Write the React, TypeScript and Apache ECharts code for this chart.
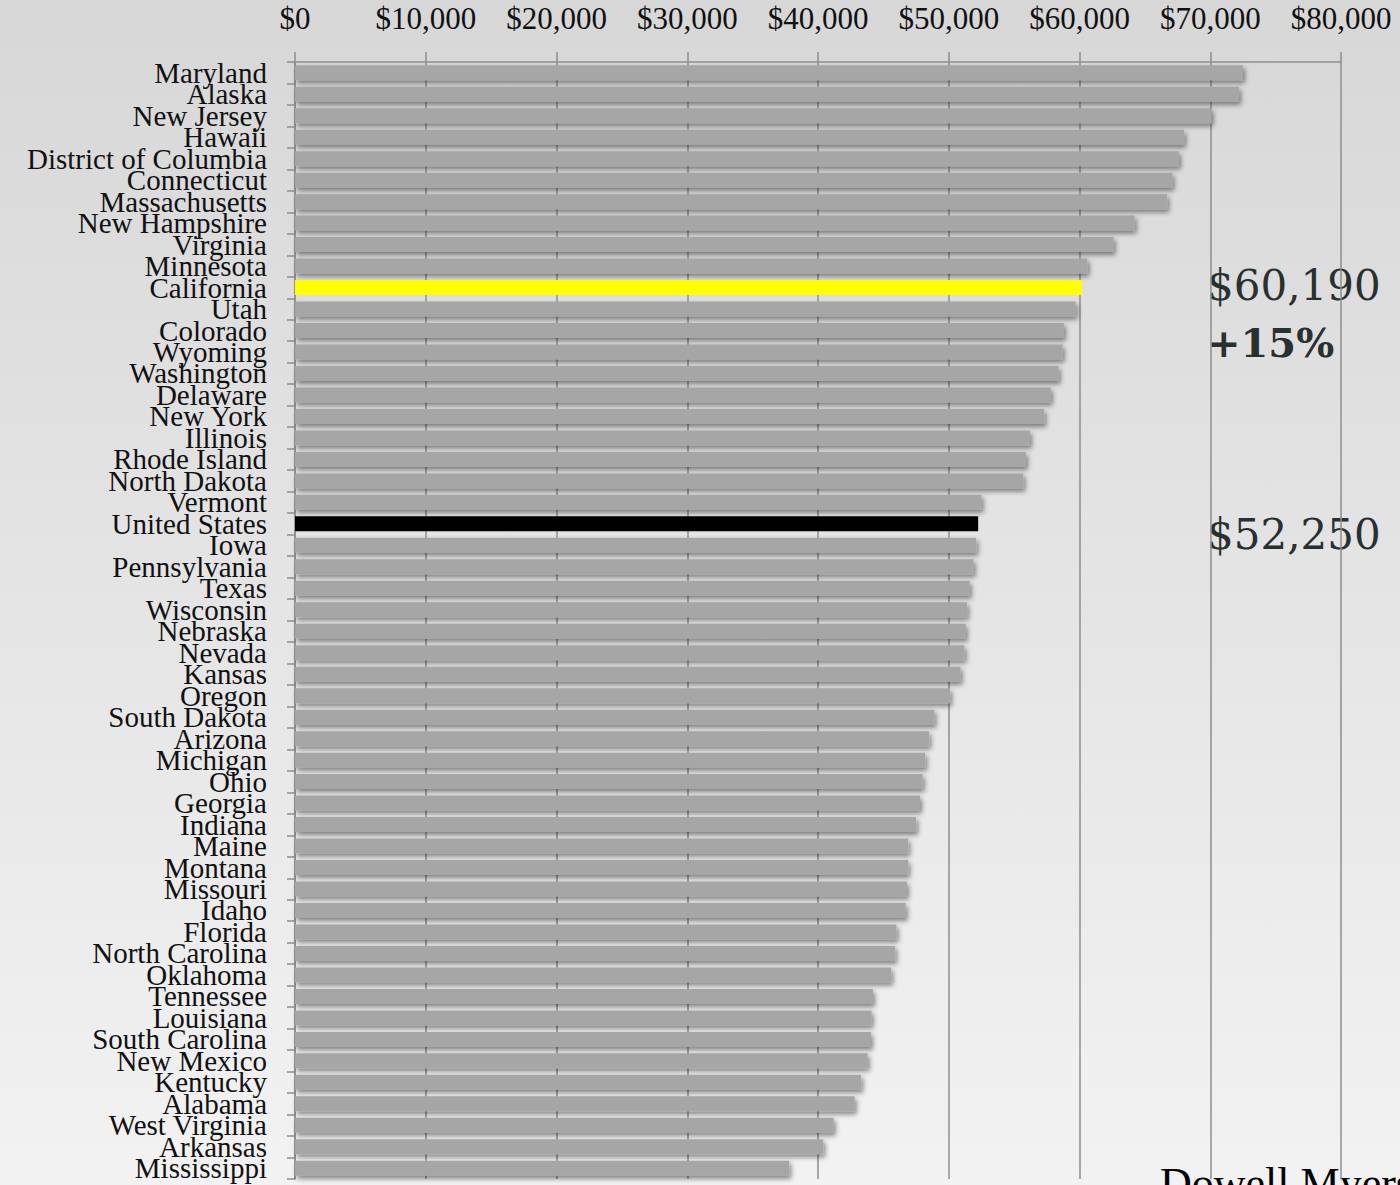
import React, { useEffect, useRef } from "react";
import * as echarts from "echarts";

const categories = [
  "Maryland", "Alaska", "New Jersey", "Hawaii", "District of Columbia", "Connecticut",
  "Massachusetts", "New Hampshire", "Virginia", "Minnesota", "California", "Utah",
  "Colorado", "Wyoming", "Washington", "Delaware", "New York", "Illinois",
  "Rhode Island", "North Dakota", "Vermont", "United States", "Iowa", "Pennsylvania",
  "Texas", "Wisconsin", "Nebraska", "Nevada", "Kansas", "Oregon", "South Dakota",
  "Arizona", "Michigan", "Ohio", "Georgia", "Indiana", "Maine", "Montana", "Missouri",
  "Idaho", "Florida", "North Carolina", "Oklahoma", "Tennessee", "Louisiana",
  "South Carolina", "New Mexico", "Kentucky", "Alabama", "West Virginia", "Arkansas",
  "Mississippi",
];

const incomes = [
  72500, 72200, 70100, 68000, 67600, 67100,
  66700, 64200, 62600, 60600, 60190, 59700,
  58800, 58700, 58400, 57800, 57300, 56200,
  55900, 55700, 52500, 52250, 52100, 51900,
  51600, 51400, 51300, 51200, 50900, 50100, 48900,
  48500, 48200, 48000, 47800, 47500, 46900, 46900, 46800,
  46700, 46000, 45900, 45600, 44200, 44100,
  44050, 43800, 43300, 42800, 41200, 40400,
  37800,
];

const xTicks = [0, 10000, 20000, 30000, 40000, 50000, 60000, 70000, 80000];

const highlightName = "California";
const nationName = "United States";
const annotationCA = "$60,190";
const annotationPct = "+15%";
const annotationUS = "$52,250";
const sourceText = "Dowell Myers";

export default function App() {
  const ref = useRef<HTMLDivElement>(null);

  useEffect(() => {
    if (!ref.current) return;
    const chart = echarts.init(ref.current, null, { renderer: "svg" });

    const flat = {
      shadowBlur: 0,
      shadowOffsetX: 0,
      shadowOffsetY: 0,
      shadowColor: "rgba(0,0,0,0)",
    };

    const data = categories.map((name, i) => {
      if (name === highlightName) {
        return { value: incomes[i], itemStyle: { color: "#ffff00", ...flat } };
      }
      if (name === nationName) {
        return { value: incomes[i], itemStyle: { color: "#000000", ...flat } };
      }
      return { value: incomes[i] };
    });

    const gridColor = "#8e8e8e";

    chart.setOption({
      animation: false,
      backgroundColor: {
        type: "linear",
        x: 0, y: 0, x2: 0, y2: 1,
        colorStops: [
          { offset: 0, color: "#d7d7d7" },
          { offset: 1, color: "#f2f2f2" },
        ],
      },
      grid: { left: 295, right: 59, top: 62, height: 1117 },
      xAxis: {
        type: "value",
        position: "top",
        min: xTicks[0],
        max: xTicks[xTicks.length - 1],
        interval: xTicks[1] - xTicks[0],
        axisLine: { show: true, lineStyle: { color: gridColor, width: 1.5 } },
        axisTick: { show: true, length: 10, lineStyle: { color: gridColor, width: 1.5 } },
        splitLine: { show: true, lineStyle: { color: gridColor, width: 1.5 } },
        axisLabel: {
          margin: 28,
          fontSize: 31,
          fontFamily: "Liberation Serif",
          color: "#111111",
          formatter: (v: number) => "$" + v.toLocaleString("en-US"),
        },
      },
      yAxis: {
        type: "category",
        inverse: true,
        data: categories,
        axisLine: { show: true, lineStyle: { color: gridColor, width: 1.5 } },
        axisTick: { show: true, length: 8, lineStyle: { color: gridColor, width: 1.5 } },
        axisLabel: {
          interval: 0,
          margin: 28,
          fontSize: 29,
          fontFamily: "Liberation Serif",
          color: "#111111",
        },
      },
      series: [
        {
          type: "bar",
          data,
          barWidth: 15,
          itemStyle: {
            color: "#a6a6a6",
            shadowColor: "rgba(0,0,0,0.45)",
            shadowBlur: 5,
            shadowOffsetX: 2,
            shadowOffsetY: 3,
          },
          emphasis: { disabled: true },
        },
      ],
      graphic: [
        {
          type: "text",
          x: 1207,
          y: 285,
          style: {
            text: annotationCA,
            fontFamily: "DejaVu Serif",
            fontSize: 42,
            fill: "#283030",
            verticalAlign: "middle",
          },
        },
        {
          type: "text",
          x: 1207,
          y: 342,
          style: {
            text: annotationPct,
            fontFamily: "DejaVu Serif",
            fontWeight: "bold",
            fontSize: 40,
            fill: "#283030",
            verticalAlign: "middle",
          },
        },
        {
          type: "text",
          x: 1207,
          y: 534,
          style: {
            text: annotationUS,
            fontFamily: "DejaVu Serif",
            fontSize: 42,
            fill: "#283030",
            verticalAlign: "middle",
          },
        },
        {
          type: "text",
          x: 1160,
          y: 1161,
          style: {
            text: sourceText,
            fontFamily: "Liberation Serif",
            fontSize: 44,
            fill: "#000000",
            verticalAlign: "top",
          },
        },
      ],
    });

    return () => chart.dispose();
  }, []);

  return (
    <div
      ref={ref}
      style={{ position: "absolute", left: 0, top: 0, width: 1400, height: 1185 }}
    />
  );
}
